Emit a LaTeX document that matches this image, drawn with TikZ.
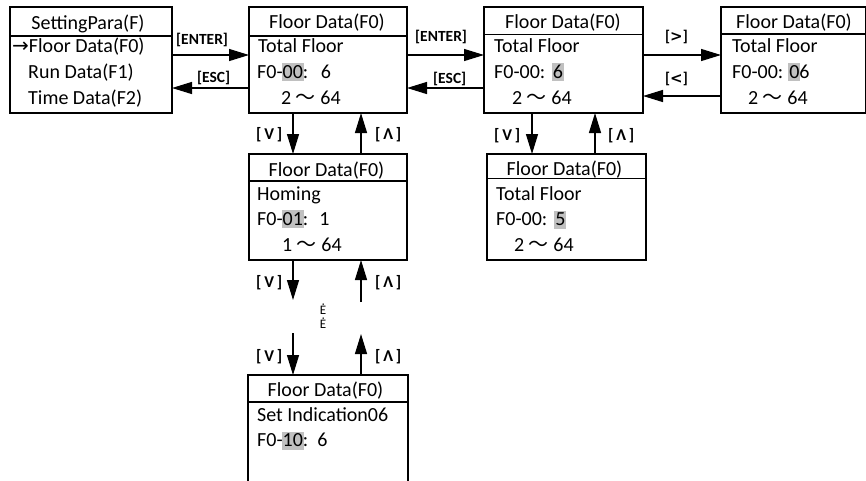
\documentclass[tikz,border=0pt]{standalone}
\usepackage{fontspec}
\setmainfont{Carlito}
\newfontfamily\cjk{Noto Sans CJK SC}
\newfontfamily\dejavu{DejaVu Sans}
\usetikzlibrary{arrows.meta}
\definecolor{hlgray}{HTML}{C0C0C0}
\newcommand{\hl}[1]{\kern-1pt{\setlength{\fboxsep}{0pt}\colorbox{hlgray}{\kern1pt\rule[-3pt]{0pt}{18pt}#1\kern1pt}}\kern-1pt}
\newcommand{\bodyfont}{\fontsize{20pt}{24pt}\selectfont}
\newcommand{\lblfont}{\fontsize{15.5pt}{18pt}\selectfont\bfseries}
\newcommand{\vlblfont}{\fontsize{16.5pt}{18pt}\selectfont\bfseries}
\newcommand{\dotfont}{\fontsize{13pt}{14.5pt}\selectfont}
\newcommand{\tl}{{\cjk ～}}
\newcommand{\bigsym}[1]{{\dejavu\fontsize{15pt}{18pt}\selectfont\bfseries #1}}
\begin{document}
\begin{tikzpicture}[x=1pt,y=-1pt,
  box/.style={draw, line width=1.3pt, inner sep=0pt, outer sep=0pt, anchor=north west},
  hdr/.style={font=\bodyfont, anchor=base, inner sep=0pt},
  txt/.style={font=\bodyfont, anchor=base west, inner sep=0pt},
  lbl/.style={font=\lblfont, anchor=base west, inner sep=0pt},
  vlbl/.style={font=\vlblfont, anchor=base west, inner sep=0pt},
  dotlbl/.style={font=\dotfont, anchor=base, inner sep=0pt},
  arr/.style={line width=1.3pt, -{Triangle[length=20pt,width=12pt]}},
  divl/.style={line width=1.3pt}]
\useasboundingbox (0,0) rectangle (866,480);
\clip (0,0) rectangle (866,480);

% boxes
\node[box, minimum width=162pt, minimum height=106pt] (b1) at (10,7) {};
\node[box, minimum width=158pt, minimum height=106pt] (b2) at (249,7) {};
\node[box, minimum width=159pt, minimum height=106pt] (b3) at (484,7) {};
\node[box, minimum width=145pt, minimum height=106pt] (b4) at (721,7) {};
\node[box, minimum width=158pt, minimum height=106pt] (b5) at (249,154) {};
\node[box, minimum width=160pt, minimum height=120pt] (b6) at (248,375) {};
\node[box, minimum width=159pt, minimum height=106pt] (b7) at (487,154) {};

% header dividers
\draw[divl] ([yshift=-29pt]b1.north west) -- ([yshift=-29pt]b1.north east);
\draw[divl] ([yshift=-29pt]b2.north west) -- ([yshift=-29pt]b2.north east);
\draw[divl] ([yshift=-27.5pt]b3.north west) -- ([yshift=-27.5pt]b3.north east);
\draw[divl] ([yshift=-27pt]b4.north west) -- ([yshift=-27pt]b4.north east);
\draw[divl] ([yshift=-27pt]b5.north west) -- ([yshift=-27pt]b5.north east);
\draw[divl] ([yshift=-27pt]b6.north west) -- ([yshift=-27pt]b6.north east);
\draw[divl] ([yshift=-24.5pt]b7.north west) -- ([yshift=-24.5pt]b7.north east);

% box 1
\node[hdr] (h1) at (88,29) {SettingPara(F)};
\node[txt] (t11) at (12,52.5) {{\dejavu →}Floor Data(F0)};
\node[txt] (t12) at (28,78.5) {Run Data(F1)};
\node[txt] (t13) at (28,104.5) {Time Data(F2)};

% box 2
\node[hdr] (h2) at (327,28) {Floor Data(F0)};
\node[txt] (t21) at (258,52) {Total Floor};
\node[txt] (t22) at (257,78) {F0-\hl{00}:\hspace{12.5pt}6};
\node[txt] (t23) at (281,104) {2 \tl{} 64};

% box 3
\node[hdr] (h3) at (563,28) {Floor Data(F0)};
\node[txt] (t31) at (494,52) {Total Floor};
\node[txt] (t32) at (494,78) {F0-00:\hspace{7.5pt}\hl{6}};
\node[txt] (t33) at (512,104) {2 \tl{} 64};

% box 4
\node[hdr] (h4) at (794,28) {Floor Data(F0)};
\node[txt] (t41) at (732,52) {Total Floor};
\node[txt] (t42) at (732,78) {F0-00: \hl{0}6};
\node[txt] (t43) at (748,104) {2 \tl{} 64};

% box 5
\node[hdr] (h5) at (326.5,176) {Floor Data(F0)};
\node[txt] (t51) at (257,200.5) {Homing};
\node[txt] (t52) at (257,225) {F0-\hl{01}:\hspace{11pt}1};
\node[txt] (t53) at (282,251.5) {1 \tl{} 64};

% box 6
\node[hdr] (h6) at (325.5,396.7) {Floor Data(F0)};
\node[txt] (t61) at (257,421.7) {Set Indication06};
\node[txt] (t62) at (257,446.7) {F0-\hl{10}:\hspace{9pt}6};

% box 7
\node[hdr] (h7) at (564.5,175) {Floor Data(F0)};
\node[txt] (t71) at (496,200) {Total Floor};
\node[txt] (t72) at (496,225.5) {F0-00:\hspace{8pt}\hl{5}};
\node[txt] (t73) at (514,251) {2 \tl{} 64};

% horizontal connectors
\draw[arr] ([yshift=5pt]b1.east) -- ([yshift=5pt]b2.west);
\draw[arr] ([yshift=-28pt]b2.west) -- ([yshift=-28pt]b1.east);
\draw[arr] ([yshift=5pt]b2.east) -- ([yshift=5pt]b3.west);
\draw[arr] ([yshift=-28pt]b3.west) -- ([yshift=-28pt]b2.east);
\draw[arr] ([yshift=5pt]b3.east) -- ([yshift=5pt]b4.west);
\draw[arr] ([yshift=-36pt]b4.west) -- ([yshift=-36pt]b3.east);

\node[lbl] (l1) at (176,44.5) {[ENTER]};
\node[lbl] (l2) at (197,82) {[ESC]};
\node[lbl] (l3) at (415,41) {[ENTER]};
\node[lbl] (l4) at (433,83) {[ESC]};
\node[lbl] (l5) at (665,41) {[\bigsym{>}]};
\node[lbl] (l6) at (665,83) {[\bigsym{<}]};

% vertical connectors
\draw[arr] ([xshift=-35pt]b2.south) -- ([xshift=-35pt]b5.north);
\draw[arr] ([xshift=33pt]b5.north) -- ([xshift=33pt]b2.south);
\coordinate (m1) at (293,300);
\coordinate (m2) at (361,302);
\coordinate (m3) at (293,333);
\coordinate (m4) at (361,334);
\draw[arr] ([xshift=-35pt]b5.south) -- (m1);
\draw[arr] (m2) -- ([xshift=33pt]b5.south);
\draw[arr] (m3) -- ([xshift=-35pt]b6.north);
\draw[arr] ([xshift=33pt]b6.north) -- (m4);
\draw[arr] ([xshift=-31.5pt]b3.south) -- ([xshift=-34.5pt]b7.north);
\draw[arr] ([xshift=28.5pt]b7.north) -- ([xshift=31.5pt]b3.south);

\node[vlbl] (v1) at (256,139) {[\,V\,]};
\node[vlbl] (u1) at (375,139) {[\,Λ\,]};
\node[vlbl] (v2) at (256,287) {[\,V\,]};
\node[vlbl] (u2) at (375,287) {[\,Λ\,]};
\node[vlbl] (v3) at (256,361) {[\,V\,]};
\node[vlbl] (u3) at (375,361) {[\,Λ\,]};
\node[vlbl] (v4) at (494,140) {[\,V\,]};
\node[vlbl] (u4) at (608,140) {[\,Λ\,]};

% vertical ellipsis (two stacked marks)
\node[dotlbl] (e1) at (323,314) {Ė};
\node[dotlbl] (e2) at (323,328.5) {Ė};
\end{tikzpicture}
\end{document}
